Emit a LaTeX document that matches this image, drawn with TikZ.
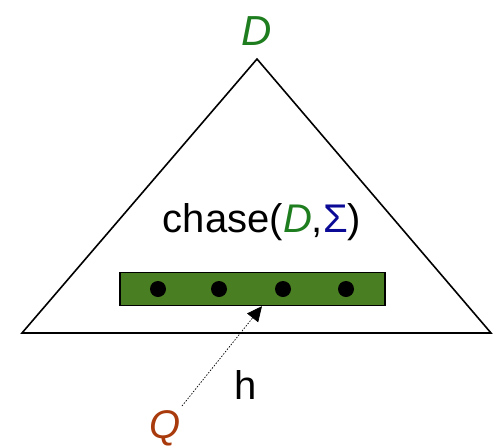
\documentclass[tikz,border=0pt]{standalone}
\usepackage{fontspec}
\setmainfont{Liberation Sans}
\usetikzlibrary{arrows.meta}
\definecolor{dgreen}{RGB}{30,125,30}
\definecolor{dblue}{RGB}{10,10,150}
\definecolor{boxgreen}{RGB}{74,126,35}
\definecolor{qbrown}{RGB}{168,58,12}
\tikzset{
  dot/.style={circle,fill=black,inner sep=0pt,minimum size=16pt},
  lbl/.style={inner sep=0pt,font=\fontsize{40}{42}\selectfont}
}
\begin{document}
\begin{tikzpicture}[x=1pt,y=-1pt]
\useasboundingbox (0,0) rectangle (493,445);
\coordinate (A) at (257,59);
\coordinate (L) at (22,333);
\coordinate (R) at (491,333);
\draw[line width=1.6pt,line join=miter] (A) -- (L) -- (R) -- cycle;
\node[draw=black,line width=1.3pt,fill=boxgreen,minimum width=265pt,minimum height=33pt,inner sep=0pt] (box) at (252.5,289) {};
\node[dot] (d1) at (158,289) {};
\node[dot] (d2) at (219,289) {};
\node[dot] (d3) at (283,289) {};
\node[dot] (d4) at (346,289) {};
\node[lbl,text=dgreen,font=\fontsize{42}{44}\selectfont] (D) at (257,31) {\itshape D};
\node[lbl] (chase) at (262,222) {chase(\textcolor{dgreen}{\itshape D},\textcolor{dblue}{Σ})};
\node[lbl] (h) at (246,385) {h};
\node[lbl,text=qbrown] (Q) at (165,428) {\itshape Q};
\coordinate (qs) at (182,406);
\draw[dash pattern=on 1.5pt off 1.5pt,line width=0.7pt,-{Triangle[length=15pt,width=14pt]}] (qs) -- (box.south -| 262,0);
\end{tikzpicture}
\end{document}
